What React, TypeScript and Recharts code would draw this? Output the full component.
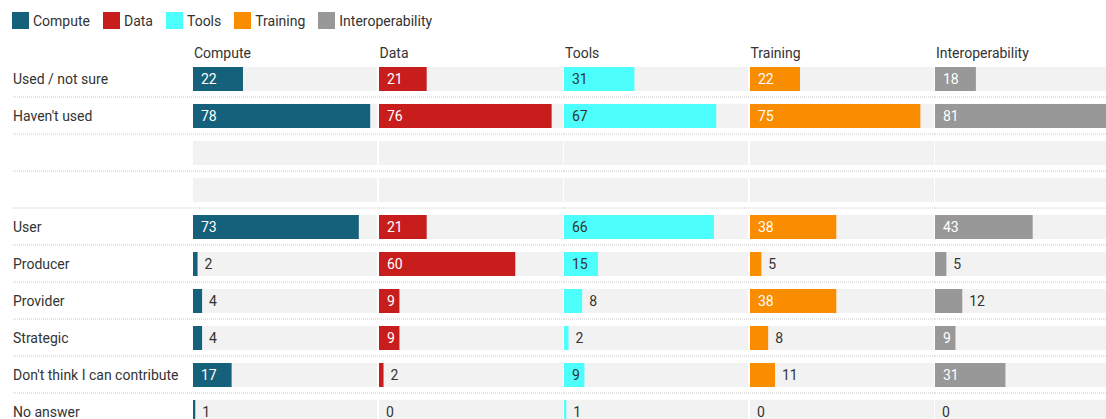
import { BarChart, Bar, XAxis, YAxis, CartesianGrid, LabelList } from "recharts"

const rowLabels = [
  "Used / not sure",
  "Haven't used",
  "",
  "",
  "User",
  "Producer",
  "Provider",
  "Strategic",
  "Don't think I can contribute",
  "No answer",
]

const seriesNames = ["Compute", "Data", "Tools", "Training", "Interoperability"]
const seriesKeys = ["compute", "data", "tools", "training", "interop"]
const seriesColors = ["#15607a", "#c71e1d", "#4cfffc", "#fa8c00", "#989898"]
const insideTextColors = ["#ffffff", "#ffffff", "#333333", "#ffffff", "#ffffff"]

// null = empty spacer row
const computeValues = [22, 78, null, null, 73, 2, 4, 4, 17, 1]
const dataValues = [21, 76, null, null, 21, 60, 9, 9, 2, 0]
const toolsValues = [31, 67, null, null, 66, 15, 8, 2, 9, 1]
const trainingValues = [22, 75, null, null, 38, 5, 38, 8, 11, 0]
const interopValues = [18, 81, null, null, 43, 5, 12, 9, 31, 0]

const xMax = 81

// recharts skips null rows entirely (no background), so spacer rows become 0 + blank flag
const rows = rowLabels.map((label, i) => ({
  row: `r${i}`,
  label,
  blank: computeValues[i] == null,
  compute: computeValues[i] ?? 0,
  data: dataValues[i] ?? 0,
  tools: toolsValues[i] ?? 0,
  training: trainingValues[i] ?? 0,
  interop: interopValues[i] ?? 0,
}))

const FONT = "Roboto, 'Noto Sans', sans-serif"
const TEXT = "#333333"

const ROW_H = 37
const CHART_H = ROW_H * rows.length
const LABEL_W = 193
const COL_W = 184
const COL_STRIDE = 185.5

const RowTick = (props: any) => {
  const { y, payload } = props
  const row = rows.find((r) => r.row === payload.value)
  return (
    <text x={13} y={y} dy="0.36em" fill={TEXT} fontSize={14} fontFamily={FONT}>
      {row ? row.label : ""}
    </text>
  )
}

const makeValueLabel = (insideColor: string) => (props: any) => {
  const { x, y, width, height, value, index } = props
  if (value == null || rows[index]?.blank) return null
  const text = String(value)
  const textW = text.length * 8
  const w = value === 0 ? 0 : width
  const inside = w >= textW + 12
  return (
    <text
      x={inside ? x + 8 : x + w + 7}
      y={y + height / 2}
      dy="0.36em"
      fill={inside ? insideColor : TEXT}
      fontSize={14}
      fontFamily={FONT}
    >
      {text}
    </text>
  )
}

const separators = ({ offset }: any) =>
  rows.slice(1).map((_, i) => offset.top + ((i + 1) * offset.height) / rows.length)

function Panel({ idx }: { idx: number }) {
  const first = idx === 0
  const width = (first ? LABEL_W : 0) + COL_W + 2
  const left = first ? 0 : LABEL_W + idx * COL_STRIDE
  return (
    <div style={{ position: "absolute", left, top: 60 }}>
      <BarChart
        layout="vertical"
        width={width}
        height={CHART_H}
        data={rows}
        margin={{ top: 0, right: 2, bottom: 0, left: 0 }}
      >
        <CartesianGrid
          vertical={false}
          x={first ? 13 : 0}
          width={first ? width - 13 : width}
          stroke="#c8c8c8"
          strokeDasharray="1 1"
          horizontalCoordinatesGenerator={separators}
        />
        <XAxis type="number" domain={[0, xMax]} hide />
        <YAxis
          type="category"
          dataKey="row"
          hide={!first}
          width={LABEL_W}
          axisLine={false}
          tickLine={false}
          tick={<RowTick />}
          interval={0}
        />
        <Bar
          dataKey={seriesKeys[idx]}
          fill={seriesColors[idx]}
          barSize={24}
          minPointSize={0.01}
          background={{ fill: "#f2f2f2" }}
          isAnimationActive={false}
        >
          <LabelList dataKey={seriesKeys[idx]} content={makeValueLabel(insideTextColors[idx])} />
        </Bar>
      </BarChart>
    </div>
  )
}

export default function App() {
  return (
    <div
      style={{
        position: "absolute",
        left: 0,
        top: 0,
        width: 1106,
        height: 419,
        overflow: "hidden",
        background: "#ffffff",
        fontFamily: FONT,
        color: TEXT,
      }}
    >
      <div style={{ position: "absolute", left: 12, top: 12, display: "flex", alignItems: "center", fontSize: 14 }}>
        {seriesNames.map((name, i) => (
          <div key={name} style={{ display: "flex", alignItems: "center", marginRight: 13 }}>
            <span style={{ width: 17, height: 17, background: seriesColors[i], display: "inline-block", marginRight: 4 }} />
            <span>{name}</span>
          </div>
        ))}
      </div>
      {seriesNames.map((name, i) => (
        <div
          key={name}
          style={{ position: "absolute", left: LABEL_W + i * COL_STRIDE + 1, top: 44, fontSize: 14, lineHeight: "18px" }}
        >
          {name}
        </div>
      ))}
      {seriesNames.map((name, i) => (
        <Panel key={name} idx={i} />
      ))}
    </div>
  )
}
